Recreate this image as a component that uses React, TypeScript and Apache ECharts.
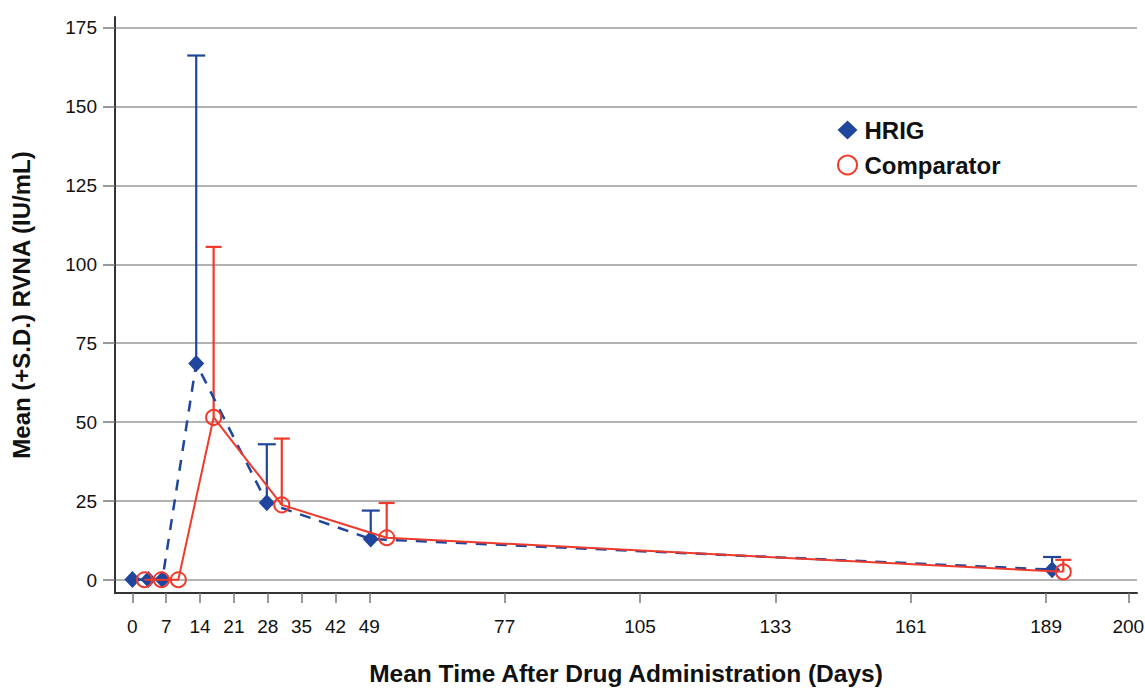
import React, { useEffect, useRef } from "react";
import * as echarts from "echarts";

// ---- data ----
const TICK_DAYS = [0, 7, 14, 21, 28, 35, 42, 49, 77, 105, 133, 161, 189, 200];
const Y_TICKS = [0, 25, 50, 75, 100, 125, 150, 175];

const hrigDays = [0, 3.3, 6.2, 13.2, 27.8, 49.3, 189.8];
const hrigMean = [0.2, 0.2, 0.2, 68.6, 24.5, 13.0, 3.3];
const hrigSD = [0, 0, 0, 97.5, 18.5, 9.0, 4.0];

const compDays = [2.5, 6, 9.5, 16.8, 30.9, 52.6, 191.3];
const compMean = [0.1, 0.1, 0.1, 51.5, 23.8, 13.4, 2.6];
const compSD = [0, 0, 0, 54.0, 21.0, 11.0, 3.8];

const BLUE = "#1f459c";
const RED = "#ef3a2c";
const FONT = "Liberation Sans, Arial, sans-serif";

// axis is linear up to day 189, the last segment (189-200) is stretched
const BREAK = 189;
const STRETCH = 17 / 11;
const t = (d: number) => (d <= BREAK ? d : BREAK + (d - BREAK) * STRETCH);

const errorSeries = (name: string, days: number[], mean: number[], sd: number[], color: string, half: number) => ({
  type: "custom",
  name: name + "-sd",
  z: 1,
  silent: true,
  data: days.map((d, i) => [t(d), mean[i], mean[i] + sd[i]]),
  renderItem: (params: any, api: any) => {
    const x = api.value(0);
    const m = api.value(1);
    const u = api.value(2);
    if (!(u > m)) return { type: "group", children: [] };
    const p0 = api.coord([x, m]);
    const p1 = api.coord([x, u]);
    return {
      type: "group",
      children: [
        { type: "line", shape: { x1: p0[0], y1: p0[1], x2: p1[0], y2: p1[1] }, style: { stroke: color, lineWidth: 2.2 } },
        { type: "line", shape: { x1: p1[0] - half, y1: p1[1], x2: p1[0] + half, y2: p1[1] }, style: { stroke: color, lineWidth: 2.2 } },
      ],
    };
  },
});

export default function App() {
  const ref = useRef<HTMLDivElement>(null);
  useEffect(() => {
    if (!ref.current) return;
    const chart = echarts.init(ref.current, undefined, { renderer: "svg" });
    const tickPos = TICK_DAYS.map(t);
    const labelFor = (v: number) => {
      const i = tickPos.findIndex((p) => Math.abs(p - v) < 1e-6);
      return i >= 0 ? String(TICK_DAYS[i]) : "";
    };
    chart.setOption({
      animation: false,
      backgroundColor: "#ffffff",
      grid: { left: 115, top: 17, right: 8, bottom: 96, containLabel: false, outerBoundsMode: "none" },
      legend: {
        orient: "vertical",
        left: 832,
        top: 113,
        itemWidth: 20,
        itemHeight: 19,
        itemGap: 11,
        selectedMode: false,
        textStyle: { fontFamily: FONT, fontSize: 24, fontWeight: "bold", color: "#111", padding: [0, 0, 0, 2] },
        data: [
          { name: "HRIG", icon: "diamond", itemStyle: { color: BLUE } },
          { name: "Comparator", icon: "circle", itemStyle: { color: "#fff", borderColor: RED, borderWidth: 2 } },
        ],
      },
      xAxis: {
        type: "value",
        min: -3.6,
        max: 207.8,
        name: "Mean Time After Drug Administration (Days)",
        nameLocation: "middle",
        nameGap: 68,
        nameTextStyle: { fontFamily: FONT, fontSize: 24.5, fontWeight: "bold", color: "#111" },
        axisLine: { show: true, onZero: false, lineStyle: { color: "#333", width: 2 } },
        axisTick: { show: true, length: 10, customValues: tickPos, lineStyle: { color: "#777", width: 1.5 } },
        axisLabel: {
          customValues: tickPos,
          formatter: (v: number) => labelFor(v),
          fontFamily: FONT,
          fontSize: 19,
          color: "#111",
          margin: 24,
        },
        splitLine: { show: false },
      },
      yAxis: {
        type: "value",
        min: -4.1,
        max: 178.3,
        name: "Mean (+S.D.) RVNA (IU/mL)",
        nameLocation: "middle",
        nameRotate: 90,
        nameGap: 82,
        nameTextStyle: { fontFamily: FONT, fontSize: 24, fontWeight: "bold", color: "#111" },
        axisLine: { show: true, onZero: false, lineStyle: { color: "#333", width: 2 } },
        axisTick: { show: true, length: 12, customValues: Y_TICKS, lineStyle: { color: "#777", width: 1.5 } },
        axisLabel: {
          customValues: Y_TICKS,
          fontFamily: FONT,
          fontSize: 19,
          color: "#111",
          margin: 18,
        },
        splitLine: { show: true, lineStyle: { color: "#9a9a9a", width: 1.5 } },
      },
      series: [
        errorSeries("HRIG", hrigDays, hrigMean, hrigSD, BLUE, 9),
        errorSeries("Comparator", compDays, compMean, compSD, RED, 8),
        {
          type: "line",
          name: "HRIG",
          z: 3,
          data: hrigDays.map((d, i) => [t(d), hrigMean[i]]),
          symbol: "diamond",
          symbolSize: [16, 17],
          itemStyle: { color: BLUE },
          lineStyle: { color: BLUE, width: 2.5, type: [11, 9] },
        },
        {
          type: "line",
          name: "Comparator",
          z: 4,
          data: compDays.map((d, i) => [t(d), compMean[i]]),
          symbol: "circle",
          symbolSize: 15,
          itemStyle: { color: "rgba(255,255,255,0)", borderColor: RED, borderWidth: 2 },
          lineStyle: { color: RED, width: 2 },
        },
      ],
    });
    return () => chart.dispose();
  }, []);
  return <div ref={ref} style={{ position: "fixed", left: 0, top: 0, width: 1145, height: 689 }} />;
}
